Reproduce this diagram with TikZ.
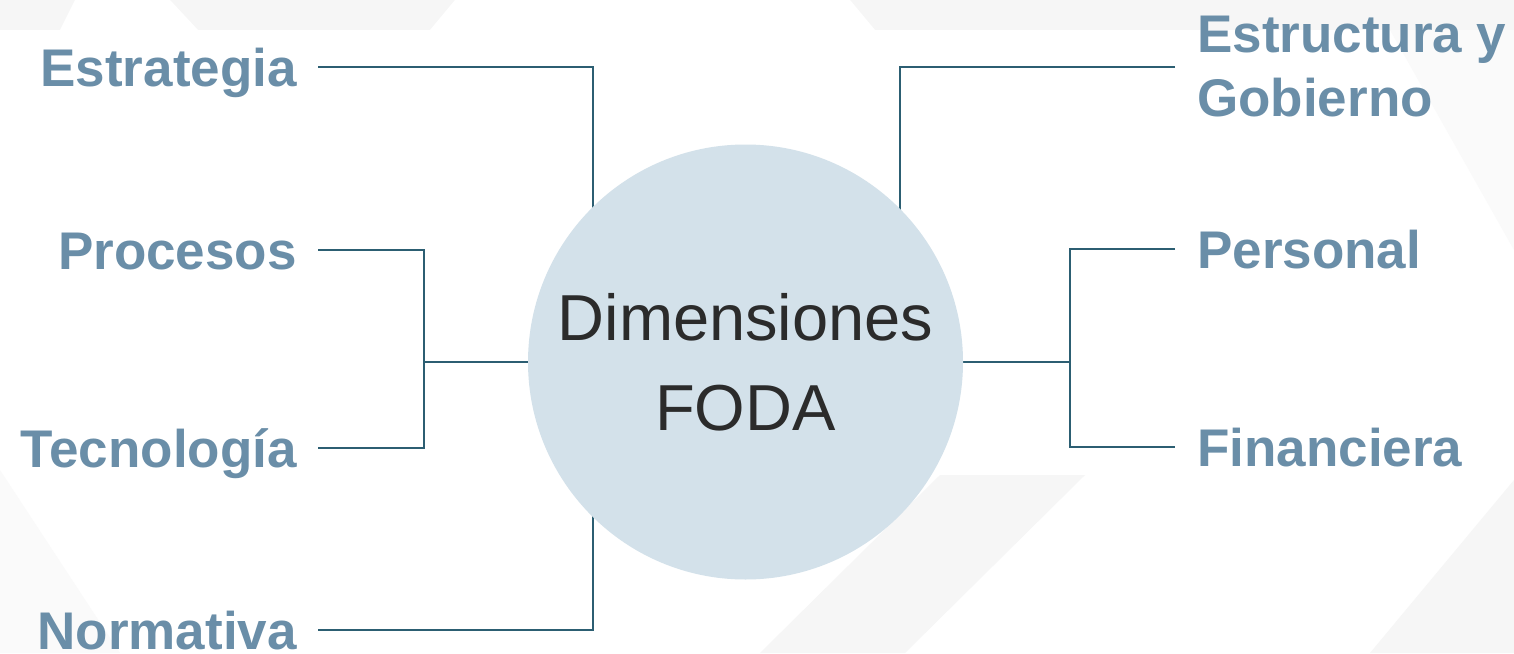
\documentclass[tikz,border=0pt]{standalone}
\usepackage{fontspec}
\setmainfont{Liberation Sans}
\definecolor{lblc}{HTML}{6A8EA8}
\definecolor{linec}{HTML}{2C5E72}
\definecolor{circc}{HTML}{D3E1EA}
\definecolor{txtc}{HTML}{2B2B2B}
\definecolor{bga}{HTML}{F6F6F6}
\definecolor{bgb}{HTML}{FAFAFA}
\pgfdeclarelayer{back}
\pgfdeclarelayer{lines}
\pgfsetlayers{back,lines,main}
\tikzset{
  lbl/.style={inner sep=0pt, text=lblc, font=\bfseries\fontsize{53}{64}\selectfont},
  onel/.style={lbl, text height=38pt, text depth=0pt},
  conn/.style={draw=linec, line width=2pt},
  hub/.style={circle, fill=circc, minimum size=435pt, inner sep=0pt, align=center,
    text=txtc, font=\fontsize{65}{90}\selectfont}
}
\begin{document}
\begin{tikzpicture}[x=1pt,y=-1pt]
\useasboundingbox (0,0) rectangle (1514,653);
\begin{pgfonlayer}{back}
  \fill[white] (0,0) rectangle (1514,653);
  \fill[bga] (0,0) rectangle (1514,30);
  \fill[white] (60,30) -- (75,0) -- (170,0) -- (198,30) -- cycle;
  \fill[white] (430,30) -- (455,0) -- (850,0) -- (875,30) -- cycle;
  \fill[bgb] (1390,30) -- (1514,30) -- (1514,250) -- cycle;
  \fill[bga] (760,653) -- (940,475) -- (1085,475) -- (905,653) -- cycle;
  \fill[bga] (1514,480) -- (1514,653) -- (1370,653) -- cycle;
  \fill[bgb] (0,470) -- (120,653) -- (0,653) -- cycle;
\end{pgfonlayer}

\node[hub] (c) at (745.5,362) {Dimensiones\\FODA};

\node[onel, anchor=east] (est) at (297,67) {Estrategia};
\node[onel, anchor=east] (pro) at (297,250) {Procesos};
\node[onel, anchor=east] (tec) at (297,448) {Tecnología};
\node[onel, anchor=east] (nor) at (297,630) {Normativa};
\node[lbl, anchor=west, align=left] (estr) at (1197,67) {Estructura y\\Gobierno};
\node[onel, anchor=west] (per) at (1197,249) {Personal};
\node[onel, anchor=west] (fin) at (1197,447) {Financiera};

\coordinate (ja) at (593,362);
\coordinate (jl) at (424,362);
\coordinate (jb) at (900,362);
\coordinate (jr) at (1070,362);

\begin{pgfonlayer}{lines}
  \draw[conn] ([xshift=21pt]est.east) -| (ja);
  \draw[conn] ([xshift=21pt]nor.east) -| (ja);
  \draw[conn] ([xshift=21pt]pro.east) -| (jl) |- ([xshift=21pt]tec.east);
  \draw[conn] (jl) -- (c.west);
  \draw[conn] ([xshift=-22pt]estr.west) -| (jb);
  \draw[conn] ([xshift=-22pt]per.west) -| (jr) |- ([xshift=-22pt]fin.west);
  \draw[conn] (c.east) -- (jr);
\end{pgfonlayer}
\end{tikzpicture}
\end{document}
